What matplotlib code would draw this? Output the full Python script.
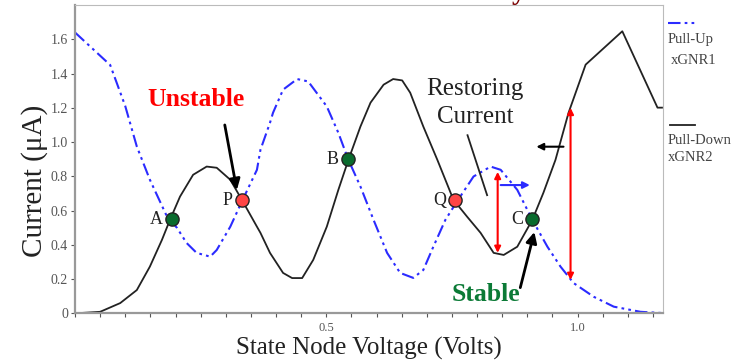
import matplotlib.pyplot as plt
import numpy as np

# Pull-up xGNR1 (blue dash-dot-dot)
up_v = [0.00, 0.07, 0.10, 0.123, 0.149, 0.183, 0.203, 0.222, 0.242, 0.269, 0.282, 0.309,
        0.332, 0.362, 0.369, 0.388, 0.394, 0.414, 0.442, 0.464, 0.501, 0.524, 0.544, 0.568,
        0.594, 0.621, 0.647, 0.673, 0.693, 0.713, 0.737, 0.760, 0.793, 0.827, 0.847, 0.880,
        0.910, 0.940, 0.966, 0.992, 1.032, 1.072, 1.125, 1.168]
up_i = [1.64, 1.45, 1.21, 0.974, 0.780, 0.565, 0.499, 0.411, 0.353, 0.331, 0.370, 0.506,
        0.653, 0.838, 0.955, 1.113, 1.171, 1.306, 1.368, 1.354, 1.208, 1.054, 0.896, 0.740,
        0.546, 0.353, 0.236, 0.207, 0.253, 0.389, 0.546, 0.653, 0.799, 0.857, 0.838, 0.721,
        0.546, 0.389, 0.273, 0.177, 0.097, 0.039, 0.009, 0.002]

# Pull-down xGNR2 (black solid)
down_v = [0.00, 0.05, 0.09, 0.123, 0.149, 0.173, 0.189, 0.209, 0.235, 0.262, 0.282, 0.309,
          0.332, 0.362, 0.369, 0.388, 0.414, 0.432, 0.452, 0.474, 0.501, 0.524, 0.544, 0.568,
          0.588, 0.614, 0.633, 0.651, 0.667, 0.693, 0.721, 0.753, 0.780, 0.807, 0.833, 0.853,
          0.880, 0.910, 0.932, 0.956, 0.982, 1.016, 1.089, 1.159, 1.168]
down_i = [0.00, 0.009, 0.060, 0.136, 0.273, 0.429, 0.546, 0.682, 0.809, 0.857, 0.850, 0.780,
          0.663, 0.506, 0.470, 0.353, 0.236, 0.206, 0.206, 0.312, 0.506, 0.721, 0.896, 1.091,
          1.230, 1.335, 1.368, 1.360, 1.288, 1.091, 0.896, 0.663, 0.565, 0.470, 0.353, 0.341,
          0.389, 0.546, 0.704, 0.896, 1.171, 1.452, 1.647, 1.201, 1.201]

# crossing points
pt_names = ['A', 'P', 'B', 'Q', 'C']
pt_v = [0.193, 0.333, 0.544, 0.757, 0.910]
pt_i = [0.55, 0.66, 0.90, 0.66, 0.55]
pt_stable = [True, False, True, False, True]

y_ticks = [0, 0.2, 0.4, 0.6, 0.8, 1.0, 1.2, 1.4, 1.6]
y_labels = ['0', '0.2', '0.4', '0.6', '0.8', '1.0', '1.2', '1.4', '1.6']

plt.rcParams['font.family'] = ['Liberation Serif', 'DejaVu Serif']

fig = plt.figure(figsize=(7.53, 3.61), dpi=100)
ax = fig.add_axes([0.0996, 0.132, 0.7809, 0.854])

ax.plot(up_v, up_i, color='#2b2bff', lw=1.5, dashes=(6, 2, 1.3, 2, 1.3, 2))
ax.plot(down_v, down_i, color='#222222', lw=1.3)

for name, v, i, st in zip(pt_names, pt_v, pt_i, pt_stable):
    fc = '#0a6b2e' if st else '#ff4545'
    ax.plot(v, i, 'o', ms=9.5, mfc=fc, mec='#222222', mew=1.0, zorder=5)
    ax.text(v - 0.019, i, name, fontsize=13, ha='right', va='center', color='#222222')

# red double arrows showing restoring current
red_kw = dict(arrowstyle='<|-|>', color='#ff0000', lw=1.5, mutation_scale=9, shrinkA=0, shrinkB=0)
ax.annotate('', xy=(0.841, 0.353), xytext=(0.841, 0.826), arrowprops=red_kw)
ax.annotate('', xy=(0.986, 0.195), xytext=(0.986, 1.20), arrowprops=red_kw)

# small direction arrows
ax.annotate('', xy=(0.905, 0.749), xytext=(0.847, 0.749),
            arrowprops=dict(arrowstyle='-|>', color='#2b2bff', lw=1.5, mutation_scale=10, shrinkA=0, shrinkB=0))
ax.annotate('', xy=(0.918, 0.973), xytext=(0.972, 0.973),
            arrowprops=dict(arrowstyle='-|>', color='black', lw=1.5, mutation_scale=10, shrinkA=0, shrinkB=0))

ax.text(0.24, 1.25, 'Unstable', color='#ff0000', fontsize=18.5, fontweight='bold', ha='center', va='center')
ax.annotate('', xy=(0.322, 0.72), xytext=(0.298, 1.1),
            arrowprops=dict(arrowstyle='-|>', color='black', lw=2, mutation_scale=16, shrinkA=0, shrinkB=0))

ax.text(0.817, 0.108, 'Stable', color='#0b7a36', fontsize=18.5, fontweight='bold', ha='center', va='center')
ax.annotate('', xy=(0.914, 0.475), xytext=(0.886, 0.15),
            arrowprops=dict(arrowstyle='-|>', color='black', lw=2, mutation_scale=16, shrinkA=0, shrinkB=0))

ax.text(0.796, 1.31, 'Restoring', fontsize=18, ha='center', va='center', color='#222222')
ax.text(0.796, 1.145, 'Current', fontsize=18, ha='center', va='center', color='#222222')
ax.plot([0.781, 0.820], [1.04, 0.69], color='#222222', lw=1.3)

ax.set_xlim(0, 1.17)
ax.set_ylim(0, 1.8)
ax.set_yticks(y_ticks)
ax.set_yticklabels(y_labels)
ax.set_xticks([0.5, 1.0])
ax.set_xticklabels(['0.5', '1.0'])
ax.set_xticks(np.arange(0, 1.17, 0.05), minor=True)
ax.tick_params(axis='y', labelsize=10, colors='#555555', length=3, width=0.8, pad=2)
ax.tick_params(axis='x', which='both', labelsize=9, colors='#555555', length=3, width=0.8, pad=3)

for side in ['left', 'bottom']:
    ax.spines[side].set_color('#999999')
    ax.spines[side].set_linewidth(1.6)
for side in ['top', 'right']:
    ax.spines[side].set_color('#bbbbbb')
    ax.spines[side].set_linewidth(0.8)

ax.set_ylabel('Current (\u03bcA)', fontsize=21, color='#222222')
ax.yaxis.set_label_coords(-0.046, 0.43)
ax.set_xlabel('State Node Voltage (Volts)', fontsize=18, color='#222222', labelpad=2)

# legend drawn at right outside the axes
fig.lines.append(plt.Line2D([668 / 753, 695 / 753], [1 - 23 / 361] * 2, transform=fig.transFigure,
                            color='#2b2bff', lw=1.5, dashes=(6, 2, 1.3, 2, 1.3, 2)))
fig.lines.append(plt.Line2D([670 / 753, 695 / 753], [1 - 125 / 361] * 2, transform=fig.transFigure,
                            color='#222222', lw=1.3))
fig.text(668 / 753, 1 - 39 / 361, 'Pull-Up', fontsize=10.5, color='#444444', va='center')
fig.text(671 / 753, 1 - 61 / 361, 'xGNR1', fontsize=10.5, color='#444444', va='center')
fig.text(668 / 753, 1 - 140 / 361, 'Pull-Down', fontsize=10.5, color='#444444', va='center')
fig.text(668 / 753, 1 - 157 / 361, 'xGNR2', fontsize=10.5, color='#444444', va='center')

# clipped tail of the title above the crop
fig.text(0.679, 1.003, 'y', fontsize=20, fontweight='bold', color='#7a0000', va='baseline')

fig.savefig('out.png', dpi=100)
